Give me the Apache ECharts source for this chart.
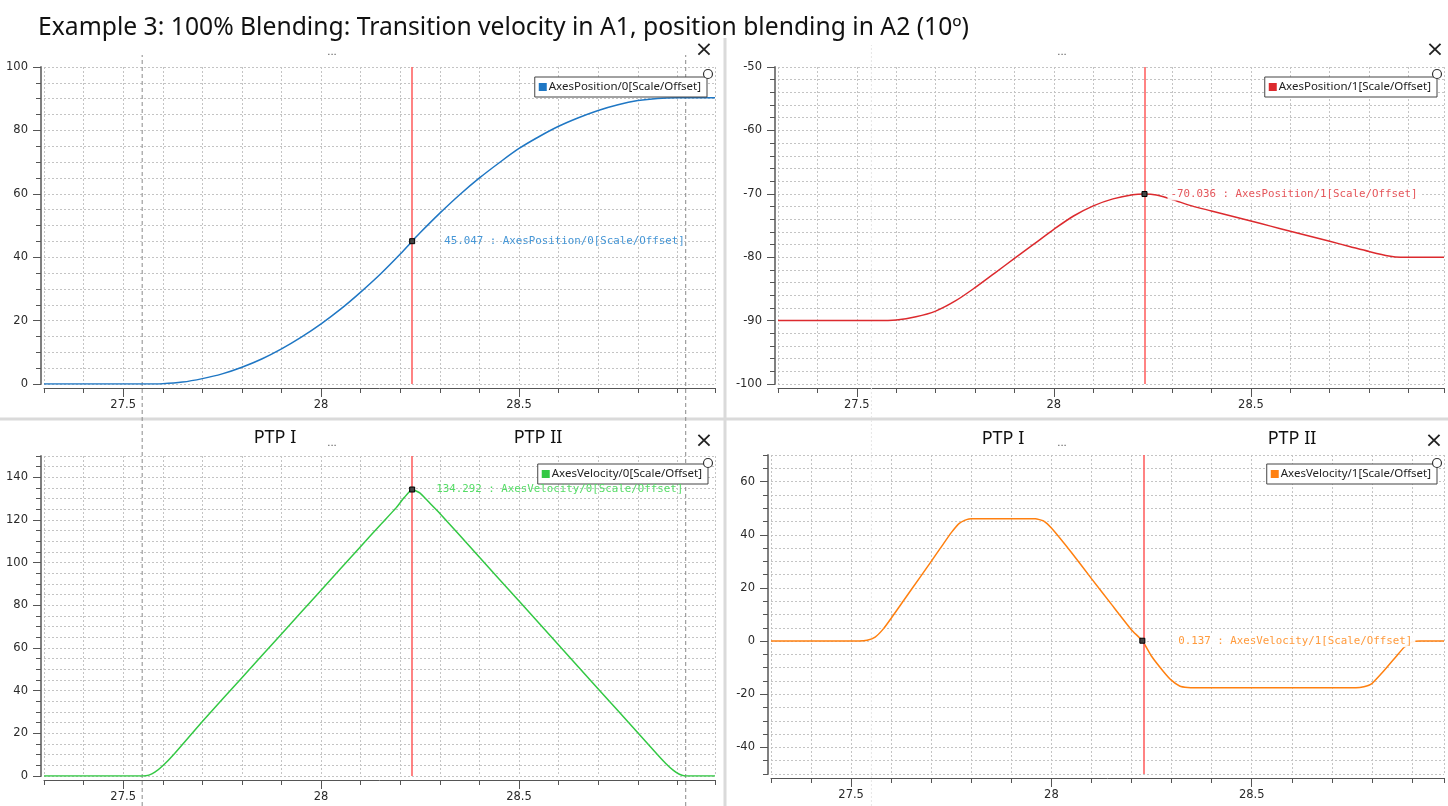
<!DOCTYPE html>
<html><head><meta charset="utf-8">
<script src="https://cdn.jsdelivr.net/npm/echarts@6/dist/echarts.min.js"></script>
<style>html,body{margin:0;padding:0;background:#fff}#c{width:1448px;height:806px}</style>
</head><body><div id="c"></div><script>
// ---------- data ----------
const xMajorTicks = [27.5, 28, 28.5];
const yMajorPos0 = [0, 20, 40, 60, 80, 100];
const yMajorPos1 = [-100, -90, -80, -70, -60, -50];
const yMajorVel0 = [0, 20, 40, 60, 80, 100, 120, 140];
const yMajorVel1 = [-40, -20, 0, 20, 40, 60];

const seriesNames = ['AxesPosition/0[Scale/Offset]', 'AxesPosition/1[Scale/Offset]', 'AxesVelocity/0[Scale/Offset]', 'AxesVelocity/1[Scale/Offset]'];
const cursorTime = [28.23, 28.23, 28.23, 28.227];
const cursorValue = ['45.047', '-70.036', '134.292', '0.137'];
const markerTimesLeft = [27.548, 28.921];
const markerTimesRight = [27.537];
const panelTitles = ['PTP I', 'PTP II'];

const pos0Time = [27.3, 27.55, 27.6, 27.65, 27.7, 27.75, 27.8, 27.85, 27.9, 27.95, 28.0, 28.05, 28.1, 28.15, 28.2, 28.23, 28.25, 28.3, 28.35, 28.4, 28.45, 28.5, 28.55, 28.6, 28.65, 28.7, 28.75, 28.8, 28.85, 28.9, 28.995];
const pos0Value = [0, 0, 0.1, 0.6, 1.7, 3.2, 5.3, 7.9, 11.1, 14.8, 19.0, 23.7, 29.0, 34.7, 41.0, 45.05, 47.7, 53.9, 59.7, 65.0, 69.8, 74.3, 78.0, 81.3, 84.0, 86.3, 88.1, 89.4, 90.1, 90.3, 90.3];

const pos1Time = [27.3, 27.55, 27.6, 27.65, 27.7, 27.75, 27.8, 27.85, 27.9, 27.95, 28.0, 28.05, 28.1, 28.15, 28.2, 28.23, 28.26, 28.3, 28.35, 28.4, 28.45, 28.5, 28.55, 28.6, 28.65, 28.7, 28.75, 28.8, 28.85, 28.88, 28.99];
const pos1Value = [-90, -90, -89.9, -89.4, -88.5, -86.9, -84.8, -82.5, -80.2, -77.9, -75.6, -73.5, -71.9, -70.8, -70.15, -70.036, -70.2, -70.9, -71.9, -72.7, -73.5, -74.3, -75.1, -75.9, -76.7, -77.5, -78.3, -79.1, -79.8, -80, -80];

const vel0Time = [27.3, 27.55, 27.565, 27.58, 27.6, 27.63, 27.7, 27.8, 27.9, 28.0, 28.1, 28.15, 28.19, 28.21, 28.23, 28.25, 28.27, 28.3, 28.4, 28.5, 28.6, 28.7, 28.8, 28.85, 28.87, 28.89, 28.905, 28.92, 28.995];
const vel0Value = [0, 0, 0.4, 1.8, 4.8, 10.6, 25.6, 46.1, 66.6, 87.1, 107.6, 117.8, 125.8, 130.5, 134.3, 132.6, 128.8, 123.1, 102.5, 82.0, 61.4, 40.8, 20.3, 10.0, 6.0, 2.6, 0.8, 0, 0];

const vel1Time = [27.3, 27.52, 27.54, 27.56, 27.58, 27.6, 27.65, 27.7, 27.73, 27.75, 27.77, 27.79, 27.8, 27.96, 27.98, 28.0, 28.05, 28.1, 28.15, 28.2, 28.227, 28.25, 28.28, 28.3, 28.32, 28.34, 28.36, 28.76, 28.78, 28.8, 28.83, 28.86, 28.88, 28.9, 28.92, 28.98];
const vel1Value = [0, 0, 0.3, 1.5, 4.5, 8.6, 19.3, 30, 36.5, 40.8, 44.3, 45.8, 46, 46, 45.2, 42.5, 33.3, 23.5, 13.8, 4.2, 0.137, -5.7, -11.5, -14.8, -16.9, -17.5, -17.6, -17.6, -17.2, -16.0, -11.2, -5.9, -2.4, -0.4, 0, 0];

// ---------- layout / style ----------
const colors = ['#1f77c4', '#dc2a2e', '#33c844', '#ff8010'];
const labelColors = ['#4596d6', '#e4555a', '#55dc66', '#ff9a3c'];
const smoothing = [0.3, 0.3, 0.15, 0.15];
const layout = [
  {left: 44, top: 67, width: 671, height: 317, xmin: 27.3, xmax: 28.995, ymin: 0, ymax: 100, ystep: 5, ymajor: yMajorPos0, legRight: 741, legTop: 77, lblDist: 26},
  {left: 778, top: 67, width: 666, height: 317, xmin: 27.3, xmax: 28.99, ymin: -100, ymax: -50, ystep: 2, ymajor: yMajorPos1, legRight: 11, legTop: 77, lblDist: 20},
  {left: 44, top: 456, width: 671, height: 320, xmin: 27.3, xmax: 28.995, ymin: 0, ymax: 150, ystep: 5, ymajor: yMajorVel0, legRight: 740, legTop: 464, lblDist: 18},
  {left: 771, top: 455, width: 673, height: 319, xmin: 27.3, xmax: 28.98, ymin: -50, ymax: 70, ystep: 5, ymajor: yMajorVel1, legRight: 11, legTop: 464, lblDist: 30}
];
const dataSets = [[pos0Time, pos0Value], [pos1Time, pos1Value], [vel0Time, vel0Value], [vel1Time, vel1Value]];
const zip = (a, b) => a.map((t, i) => [t, b[i]]);

const grid = [], xAxis = [], yAxis = [], series = [], legend = [];
const axisFont = {fontFamily: 'DejaVu Sans', fontSize: 11.5, color: '#2a2a2a'};
const gridLine = {show: true, lineStyle: {color: '#c4c4c4', type: [2, 2], width: 1}};

layout.forEach((p, i) => {
  grid.push({left: p.left, top: p.top, width: p.width, height: p.height, containLabel: false});
  xAxis.push({type: 'value', gridIndex: i, min: p.xmin, max: p.xmax, interval: 0.1, position: 'bottom', offset: 4,
    axisLine: {show: true, onZero: false, lineStyle: {color: '#555', width: 1}},
    axisTick: {show: true, length: 5, lineStyle: {color: '#555'}},
    axisLabel: {show: false}, splitLine: gridLine});
  xAxis.push({type: 'value', gridIndex: i, min: p.xmin, max: p.xmax, position: 'bottom', offset: 4,
    axisLine: {show: false, onZero: false},
    axisTick: {show: true, length: 9, customValues: xMajorTicks, lineStyle: {color: '#555'}},
    axisLabel: Object.assign({show: true, margin: 11, customValues: xMajorTicks, showMinLabel: true, showMaxLabel: true}, axisFont),
    splitLine: {show: false}});
  yAxis.push({type: 'value', gridIndex: i, min: p.ymin, max: p.ymax, interval: p.ystep, position: 'left', offset: 3,
    axisLine: {show: true, onZero: false, lineStyle: {color: '#808080', width: 2}},
    axisTick: {show: true, length: 5, lineStyle: {color: '#555'}},
    axisLabel: {show: false}, splitLine: gridLine});
  yAxis.push({type: 'value', gridIndex: i, min: p.ymin, max: p.ymax, position: 'left', offset: 3,
    axisLine: {show: false, onZero: false},
    axisTick: {show: true, length: 8, customValues: p.ymajor, lineStyle: {color: '#555'}},
    axisLabel: Object.assign({show: true, margin: 13, customValues: p.ymajor, showMinLabel: true, showMaxLabel: true}, axisFont),
    splitLine: {show: false}});

  legend.push({data: [seriesNames[i]], right: p.legRight, top: p.legTop, orient: 'horizontal',
    icon: 'rect', itemWidth: 8, itemHeight: 8, itemGap: 0, padding: [4, 6, 4, 4],
    borderColor: '#444', borderWidth: 1, backgroundColor: '#fff', selectedMode: false,
    textStyle: {fontFamily: 'Noto Sans', fontSize: 11.5, color: '#222', padding: [0, 0, 0, -3]}});

  series.push({
    name: seriesNames[i], type: 'line', xAxisIndex: 2 * i, yAxisIndex: 2 * i,
    data: zip(dataSets[i][0], dataSets[i][1]), showSymbol: false, symbol: 'none', smooth: smoothing[i],
    lineStyle: {color: colors[i], width: 1.5}, itemStyle: {color: colors[i]}, animation: false, z: 3,
    markLine: {silent: true, symbol: 'none', label: {show: false}, animation: false,
      lineStyle: {color: '#ff5a5a', width: 1.5, type: 'solid'}, data: [{xAxis: cursorTime[i]}]},
    markPoint: {silent: true, animation: false, symbol: 'rect', symbolSize: 5,
      itemStyle: {color: '#444', borderColor: '#000', borderWidth: 1},
      label: {show: true, position: 'right', distance: p.lblDist, color: labelColors[i],
        fontFamily: 'DejaVu Sans Mono', fontSize: 10.8,
        backgroundColor: (i % 2 === 1) ? 'rgba(255,255,255,0.9)' : 'transparent', padding: [1, 3],
        formatter: cursorValue[i] + ' : ' + seriesNames[i]},
      data: [{coord: [cursorTime[i], Number(cursorValue[i])]}]}
  });
});

// overlay grids for full-column dashed time markers
grid.push({left: 44, top: 55, width: 671, bottom: 0});
grid.push({left: 778, top: 45, width: 666, bottom: 0});
[[4, 27.3, 28.995], [5, 27.3, 28.99]].forEach(([g, mn, mx]) => {
  xAxis.push({type: 'value', gridIndex: g, min: mn, max: mx, show: false});
  yAxis.push({type: 'value', gridIndex: g, min: 0, max: 1, show: false});
});
markerTimesLeft.forEach(t => series.push({type: 'line', xAxisIndex: 8, yAxisIndex: 8, data: [[t, 0], [t, 1]],
  symbol: 'none', silent: true, animation: false, z: 1, lineStyle: {color: '#8a8a8a', width: 1, type: [4, 3]}}));
markerTimesRight.forEach(t => series.push({type: 'line', xAxisIndex: 9, yAxisIndex: 9, data: [[t, 0], [t, 1]],
  symbol: 'none', silent: true, animation: false, z: 1, lineStyle: {color: '#e6e6e6', width: 1, type: [2, 2]}}));

// decorations
const graphic = [
  {type: 'text', left: 38, top: 15, style: {text: 'Example 3: 100% Blending: Transition velocity in A1, position blending in A2 (10º)', font: '24.7px "Noto Sans"', fill: '#111'}},
  {type: 'line', shape: {x1: 0, y1: 419, x2: 1448, y2: 419}, style: {stroke: '#dadada', lineWidth: 3}, z: 0},
  {type: 'line', shape: {x1: 725, y1: 38, x2: 725, y2: 806}, style: {stroke: '#dadada', lineWidth: 3}, z: 0}
];
[[332, 52], [1062, 52], [332, 443], [1062, 443]].forEach(([x, y]) => graphic.push(
  {type: 'text', x: x, y: y, style: {text: '...', font: '10px "DejaVu Sans"', fill: '#555', align: 'center', verticalAlign: 'middle'}}));
[[704, 50], [1435, 50], [704, 441], [1434, 441]].forEach(([x, y]) => graphic.push(
  {type: 'text', x: x, y: y, style: {text: '×', font: '22px "DejaVu Sans"', fill: '#222', align: 'center', verticalAlign: 'middle'}}));
[[275, 438, 0], [538, 438, 1], [1003, 439, 0], [1292, 439, 1]].forEach(([x, y, k]) => graphic.push(
  {type: 'text', x: x, y: y, style: {text: panelTitles[k], font: '18px "Noto Sans"', fill: '#111', align: 'center', verticalAlign: 'middle'}}));
[[708, 74], [1437, 74], [708, 463], [1437, 463]].forEach(([x, y]) => graphic.push(
  {type: 'circle', shape: {cx: x, cy: y, r: 4.5}, style: {fill: '#fff', stroke: '#333', lineWidth: 1.2}, z: 100}));

const chart = echarts.init(document.getElementById('c'), null, {renderer: 'canvas'});
chart.setOption({backgroundColor: '#fff', animation: false, grid, xAxis, yAxis, series, legend, graphic});
</script></body></html>
